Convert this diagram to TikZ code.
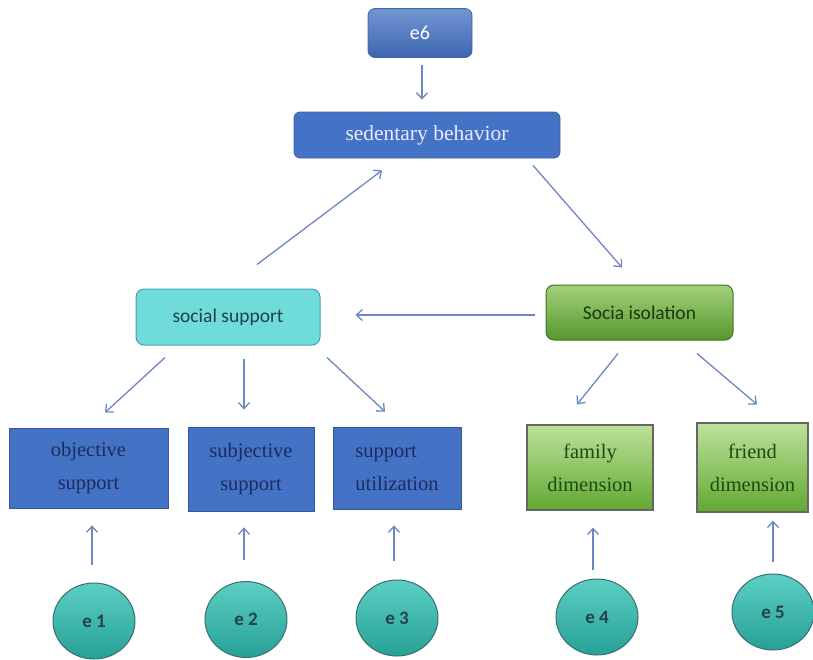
\documentclass[tikz,border=0pt]{standalone}
\usepackage{fontspec}
\setmainfont{Liberation Serif}
\newfontfamily\calib{Carlito}
\usetikzlibrary{arrows.meta,shapes.geometric}
\definecolor{bluefill}{HTML}{4472C4}
\definecolor{blueline}{HTML}{3F63A6}
\definecolor{navytext}{HTML}{1C2C5E}
\definecolor{arrowc}{HTML}{6C88C2}
\definecolor{cyanfill}{HTML}{70DCD9}
\definecolor{cyanline}{HTML}{4A9FB8}
\definecolor{greentop}{HTML}{BDE29A}
\definecolor{greenbot}{HTML}{62A832}
\definecolor{greentext}{HTML}{1D4A12}
\definecolor{tealtop}{HTML}{5CCFC3}
\definecolor{tealbot}{HTML}{27A096}
\definecolor{tealline}{HTML}{3D6E72}
\tikzset{
  arr/.style={draw=arrowc, line width=1.3pt, -{Straight Barb[length=6pt,width=11pt]}},
  topbox/.style={rectangle, rounded corners=7pt, draw=blueline, line width=0.8pt,
    top color=bluefill!75!white, bottom color=bluefill!90!black, text=white, inner sep=0pt},
  sedbox/.style={rectangle, rounded corners=6pt, draw=blueline, line width=0.8pt,
    fill=bluefill, text=white!92!blue, inner sep=0pt},
  ssbox/.style={rectangle, rounded corners=8pt, draw=cyanline, line width=1pt,
    fill=cyanfill, text=cyanline!40!black, inner sep=0pt},
  sibox/.style={rectangle, rounded corners=8pt, draw=greenbot!70!black, line width=1pt,
    top color=greentop!70!greenbot, bottom color=greenbot!90!black, text=greentext!80!black, inner sep=0pt},
  rectbox/.style={rectangle, draw=blueline!90!black, line width=0.8pt, fill=bluefill,
    text=navytext, align=center, inner sep=0pt, font=\fontsize{20.5}{33}\selectfont},
  greenbox/.style={rectangle, draw=gray!80!black, line width=1.2pt,
    top color=greentop, bottom color=greenbot, text=greentext, align=center, inner sep=0pt,
    font=\fontsize{20.5}{33}\selectfont},
  errnode/.style={ellipse, draw=tealline, line width=1pt, top color=tealtop, bottom color=tealbot,
    minimum width=82pt, minimum height=76pt, inner sep=0pt, text=tealline!60!black,
    font=\calib\bfseries\fontsize{19}{21}\selectfont}
}
\begin{document}
\begin{tikzpicture}[x=1pt,y=-1pt]
\useasboundingbox (0,0) rectangle (813,659);
% top nodes
\node[topbox, minimum width=104pt, minimum height=49pt, font=\calib\fontsize{20}{22}\selectfont] (e6) at (420,33) {e6};
\node[sedbox, minimum width=266pt, minimum height=46pt, font=\fontsize{21.5}{24}\selectfont] (sed) at (427,135) {sedentary behavior};
\node[ssbox, minimum width=184pt, minimum height=56pt, font=\calib\fontsize{19.5}{22}\selectfont] (ss) at (228,317) {social support};
\node[sibox, minimum width=187pt, minimum height=55pt, font=\calib\fontsize{19.5}{22}\selectfont] (si) at (639.5,312.5) {Socia isolation};
% indicator boxes
\node[rectbox, minimum width=159pt, minimum height=80pt] (obj) at (88.5,468) {objective\\support};
\node[rectbox, minimum width=126pt, minimum height=84pt] (subj) at (251,469) {subjective\\support};
\node[rectbox, minimum width=128pt, minimum height=82pt, align=left] (util) at (397,468) {support\\utilization};
\node[greenbox, minimum width=126pt, minimum height=85pt] (fam) at (590,467.5) {family\\dimension};
\node[greenbox, minimum width=111pt, minimum height=89pt] (fr) at (752.5,467.5) {friend\\dimension};
% error terms
\node[errnode] (e1) at (94,621) {e 1};
\node[errnode] (e2) at (246,619.5) {e 2};
\node[errnode] (e3) at (397,618) {e 3};
\node[errnode] (e4) at (597,617) {e 4};
\node[errnode] (e5) at (773,612) {e 5};
% connectors
\draw[arr] ([xshift=2pt,yshift=-7pt]e6.south) -- ([xshift=-5pt,yshift=12pt]sed.north);
\draw[arr] ([xshift=29pt,yshift=24pt]ss.north) -- ([xshift=-45pt,yshift=-12pt]sed.south);
\draw[arr] ([xshift=106pt,yshift=-7pt]sed.south) -- ([xshift=-17.5pt,yshift=17pt]si.north);
\draw[arr] ([xshift=-11pt,yshift=-2.5pt]si.west) -- ([xshift=35pt,yshift=2pt]ss.east);
\draw[arr] ([xshift=-63pt,yshift=-12pt]ss.south) -- ([xshift=16.5pt,yshift=15pt]obj.north);
\draw[arr] ([xshift=16pt,yshift=-13pt]ss.south) -- ([xshift=-7pt,yshift=17pt]subj.north);
\draw[arr] ([xshift=99pt,yshift=-12pt]ss.south) -- ([xshift=-12pt,yshift=15pt]util.north);
\draw[arr] ([xshift=-21.5pt,yshift=-13pt]si.south) -- ([xshift=-13pt,yshift=20pt]fam.north);
\draw[arr] ([xshift=57.5pt,yshift=-13pt]si.south) -- ([xshift=4.5pt,yshift=18pt]fr.north);
\draw[arr] ([xshift=-2pt,yshift=18pt]e1.north) -- ([xshift=3.5pt,yshift=-17pt]obj.south);
\draw[arr] ([xshift=-2pt,yshift=21pt]e2.north) -- ([xshift=-7pt,yshift=-16pt]subj.south);
\draw[arr] ([xshift=-3pt,yshift=19pt]e3.north) -- ([xshift=-3pt,yshift=-16pt]util.south);
\draw[arr] ([xshift=-4pt,yshift=9pt]e4.north) -- ([xshift=3pt,yshift=-17pt]fam.south);
\draw[arr] ([yshift=12pt]e5.north) -- ([xshift=20.5pt,yshift=-8pt]fr.south);
\end{tikzpicture}
\end{document}
